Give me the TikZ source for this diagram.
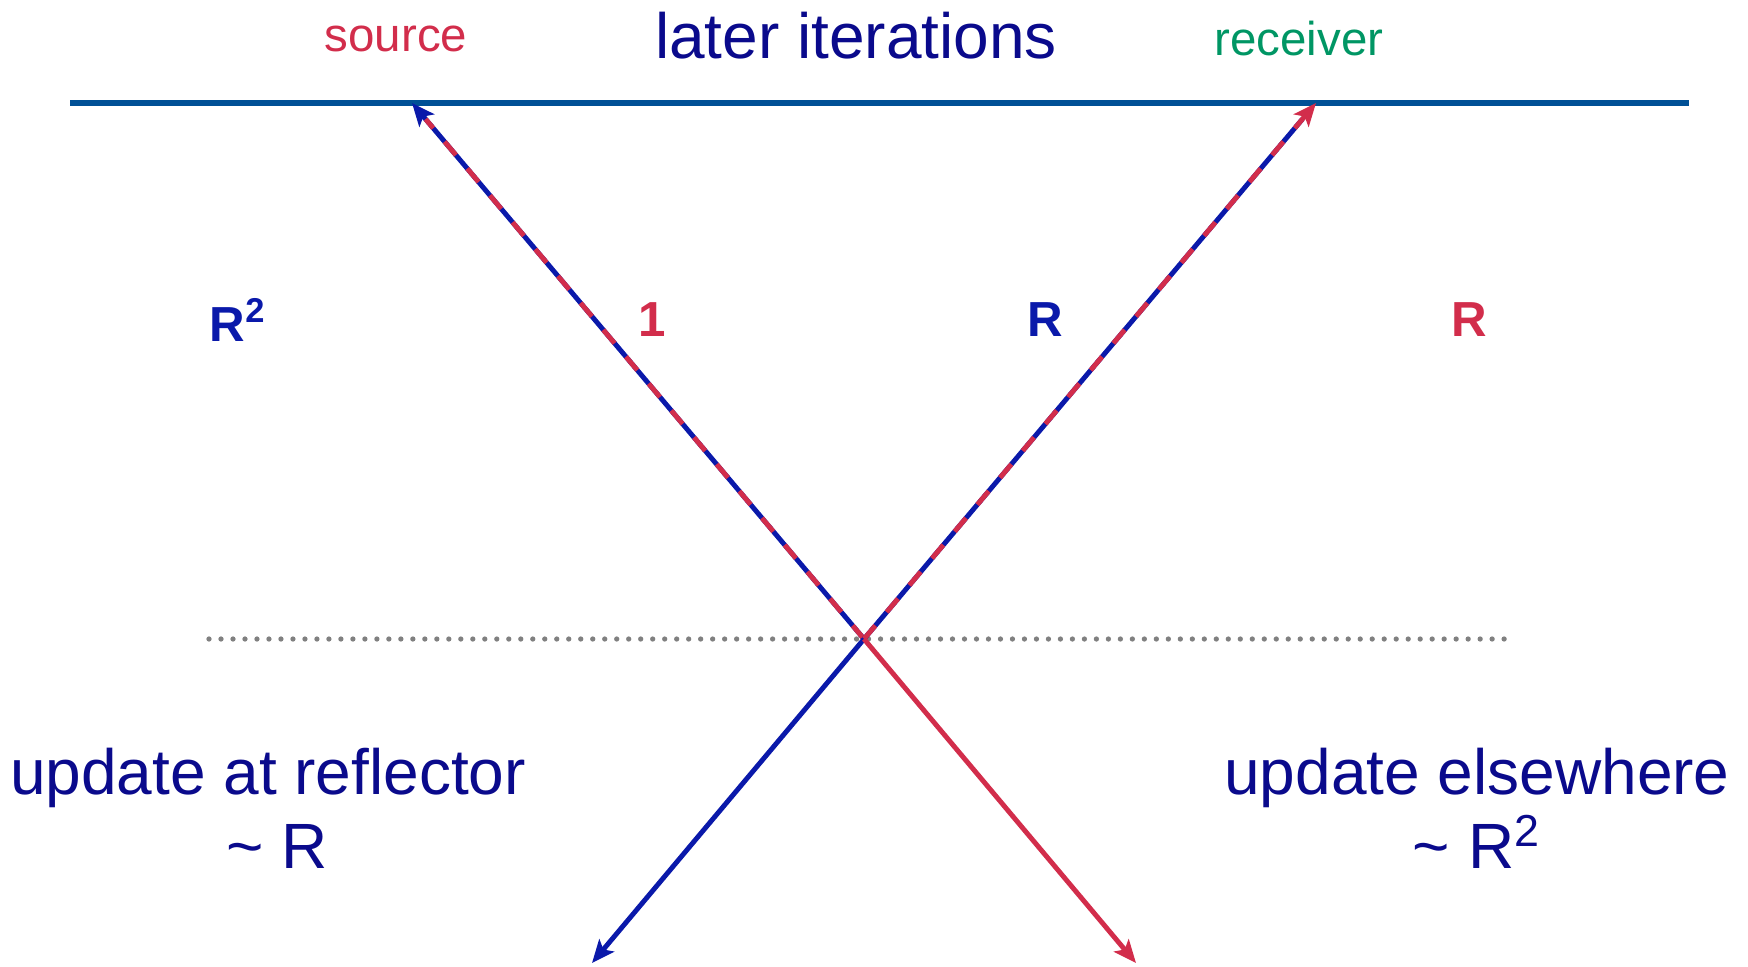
\documentclass[tikz,border=0pt]{standalone}
\usepackage{fontspec}
\setmainfont{Liberation Sans}
\usetikzlibrary{arrows.meta}
\definecolor{navy}{RGB}{10,10,140}
\definecolor{rayblue}{RGB}{10,25,170}
\definecolor{rayred}{RGB}{210,45,75}
\definecolor{recgreen}{RGB}{0,150,100}
\definecolor{surface}{RGB}{0,80,150}

\begin{document}
\begin{tikzpicture}[x=0.01cm, y=-0.01cm, font=\fontsize{18.2}{21}\selectfont,
    ray/.style={line width=1.4pt},
    tip/.style={-{Stealth[length=6.5pt,width=5.5pt,inset=1.5pt]}},
    weight/.style={font=\fontsize{14}{16}\selectfont\bfseries}]
    \useasboundingbox (0,0) rectangle (1748,966);

    % surface
    \coordinate (west) at (70,103);
    \coordinate (east) at (1689,103);
    \coordinate (src) at (412,103);
    \coordinate (rcv) at (1316,103);
    \draw[surface, line width=1.5pt] (west) -- (east);
    \node[text=rayred, font=\fontsize{13.5}{16}\selectfont] (srclab) at (396,39) {source};
    \node[text=navy] (title) at (856,36) {later iterations};
    \node[text=recgreen, font=\fontsize{13.5}{16}\selectfont] (rcvlab) at (1299,39) {receiver};

    % reflector level
    \coordinate (xing) at (864,639);
    \coordinate (dotw) at (209,639);
    \coordinate (dote) at (1511,639);
    \draw[gray, line width=1.5pt, line cap=round, dash pattern=on 0pt off 3.41pt] (dotw) -- (dote);

    % rays
    \coordinate (swend) at (592,963);
    \coordinate (seend) at (1136,963);
    \draw[rayblue, ray, tip] (xing) -- (src);
    \draw[rayred, ray, dash pattern=on 5pt off 5pt, shorten >=6pt] (xing) -- (src);
    \draw[rayblue, ray, shorten >=6pt] (xing) -- (rcv);
    \draw[rayred, ray, dash pattern=on 5pt off 5pt, tip] (xing) -- (rcv);
    \draw[rayblue, ray, tip] (xing) -- (swend);
    \draw[rayred, ray, tip] (xing) -- (seend);

    % weights
    \node[weight, text=rayblue] (wa) at (238,320) {R\textsuperscript{2}};
    \node[weight, text=rayred] (wb) at (652,320) {1};
    \node[weight, text=rayblue] (wc) at (1045,320) {R};
    \node[weight, text=rayred] (wd) at (1469,320) {R};

    % updates
    \node[text=navy, align=center] (atrefl) at (268,808) {update at reflector\\\hspace{5pt}\textasciitilde{} R};
    \node[text=navy, align=center] (elsew) at (1477,808) {update elsewhere\\\textasciitilde{} R\textsuperscript{2}};
\end{tikzpicture}
\end{document}
